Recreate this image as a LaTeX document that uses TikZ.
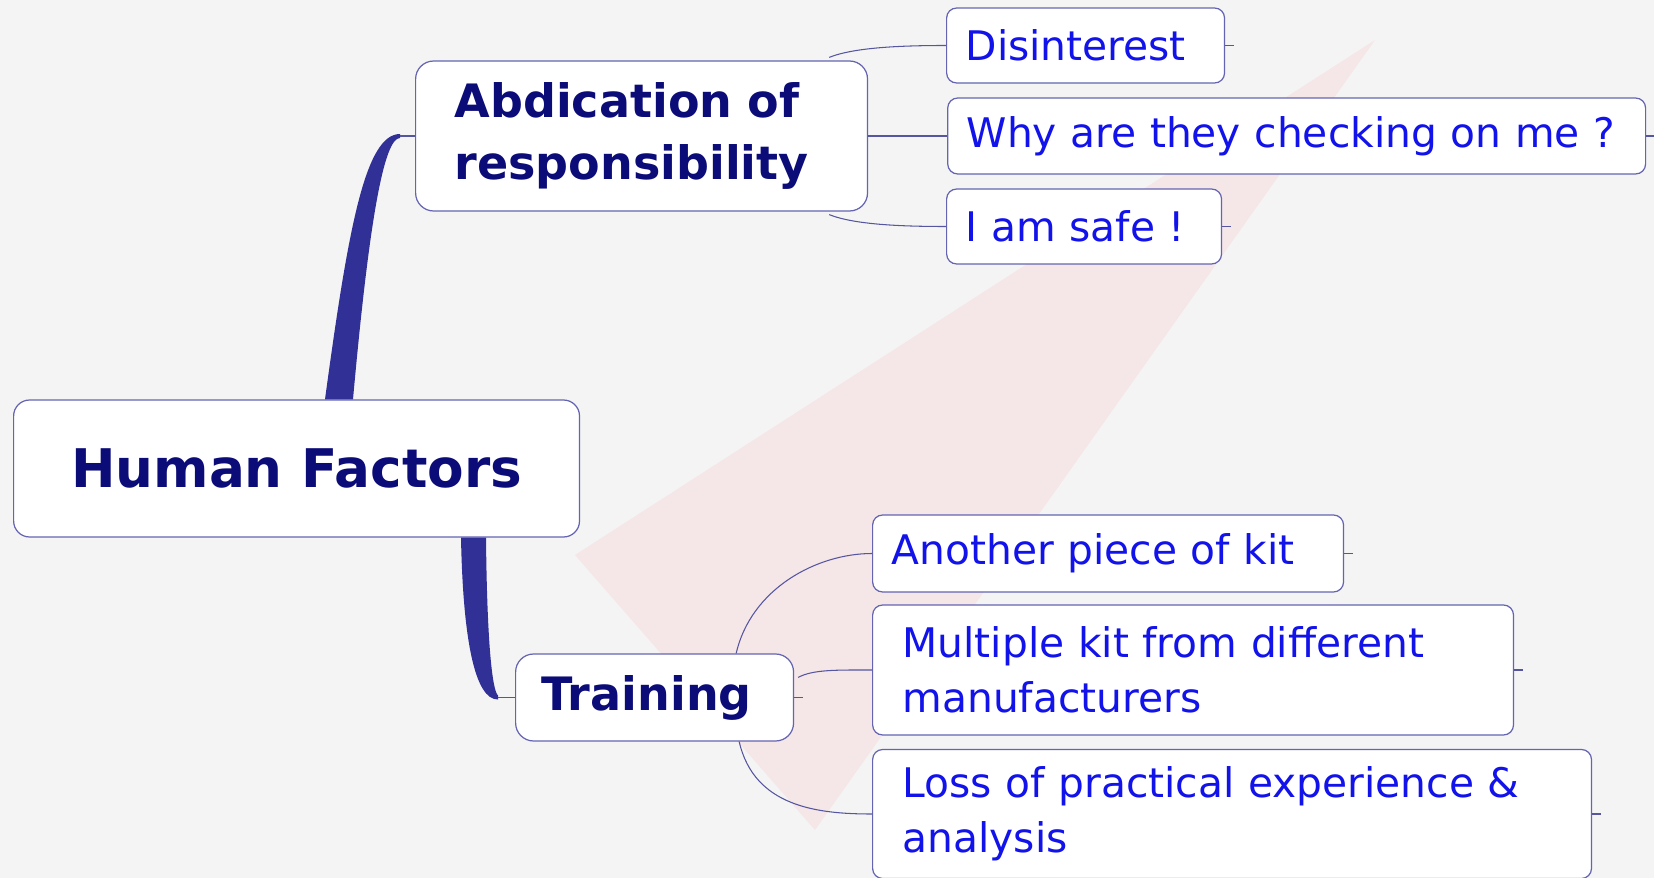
\documentclass[tikz,border=0pt]{standalone}
\usepackage{fontspec}
\setmainfont{DejaVu Sans}
\usepackage{xcolor}
\usetikzlibrary{positioning,calc}

\definecolor{topicnavy}{RGB}{12,12,120}
\definecolor{leafblue}{RGB}{18,18,235}
\definecolor{boxline}{RGB}{100,100,178}
\definecolor{branchblue}{RGB}{48,48,150}
\definecolor{twigblue}{RGB}{85,85,160}
\definecolor{paper}{RGB}{244,244,244}
\definecolor{needle}{RGB}{245,230,232}

\begin{document}
\begin{tikzpicture}[
    x=0.02cm, y=-0.02cm,
    rootbox/.style={rectangle, rounded corners=0.32cm, draw=boxline, fill=white, line width=0.7pt, font=\fontsize{30.3}{36}\selectfont\bfseries, text=topicnavy, minimum width=11.32cm, minimum height=2.74cm, align=center},
    topicbox/.style={rectangle, rounded corners=0.36cm, draw=boxline, fill=white, line width=0.7pt, font=\fontsize{26.2}{35.7}\selectfont\bfseries, text=topicnavy, align=left, anchor=west, inner ysep=0pt},
    leafbox/.style={rectangle, rounded corners=0.2cm, draw=boxline, fill=white, line width=0.7pt, font=\fontsize{23.2}{31.2}\selectfont, text=leafblue, align=left, anchor=west, inner xsep=0.38cm, inner ysep=0pt},
    branch/.style={fill=branchblue},
    twig/.style={draw=twigblue, line width=0.6pt}
]
    % Background
    \fill[paper] (0,0) rectangle (1654,878);
    \fill[needle] (575,555) -- (1375,40) -- (815,830) -- cycle;
    \useasboundingbox (0,0) rectangle (1654,878);

    % Central topic
    \node[rootbox, anchor=west] (root) at (13,468.5) {Human Factors};

    % Main topics
    \node[topicbox, inner xsep=0.78cm, text width=7.48cm, minimum height=3cm] (abd) at (415,136) {Abdication of\\responsibility};
    \node[topicbox, inner xsep=0.52cm, text width=4.52cm, minimum height=1.74cm] (trn) at (515,697.5) {Training};

    % Subtopics
    \node[leafbox, text width=13.2cm, minimum height=1.52cm, right=1.58cm of abd] (why) {Why are they checking on me ?};
    \node[leafbox, text width=4.8cm, minimum height=1.5cm] (dis) at (946,45.5) {Disinterest};
    \node[leafbox, text width=4.74cm, minimum height=1.5cm] (safe) at (946,226.5) {I am safe !};
    \node[leafbox, text width=8.66cm, minimum height=1.54cm] (ano) at (872,553.5) {Another piece of kit};
    \node[leafbox, inner xsep=0.6cm, text width=11.62cm, minimum height=2.6cm] (mul) at (872,670) {Multiple kit from different\\manufacturers};
    \node[leafbox, inner xsep=0.6cm, text width=13.18cm, minimum height=2.58cm] (los) at (872,814) {Loss of practical experience \&\\analysis};

    % Main branches
    \fill[branch] ($(root.north west)+(312,0)$) .. controls (348,230) and (365,134) .. ($(abd.west)+(-15,-2)$)
        -- ($(abd.west)+(-15,2)$) .. controls (385,138) and (370,210) .. ($(root.north west)+(340,0)$) -- cycle;
    \draw[twig] ($(abd.west)+(-15,0)$) -- (abd.west);
    \fill[branch] ($(root.south west)+(448,0)$) .. controls (463,640) and (475,700) .. ($(trn.west)+(-17,2)$)
        -- ($(trn.west)+(-17,-2)$) .. controls (492,690) and (487,640) .. ($(root.south west)+(473,0)$) -- cycle;
    \draw[twig] ($(trn.west)+(-17,0)$) -- (trn.west);

    % Subtopic links
    \draw[twig] ($(abd.north east)+(-39,-3)$) .. controls +(25,-10) and +(-45,0) .. (dis.west);
    \draw[twig] (abd.east) -- (why.west);
    \draw[twig] ($(abd.south east)+(-39,3)$) .. controls +(25,10) and +(-45,0) .. (safe.west);
    \draw[twig] ($(trn.north east)+(-58,0)$) .. controls +(15,-65) and +(-55,0) .. (ano.west);
    \draw[twig] ($(trn.north east)+(4,24)$) .. controls +(15,-8) and +(-35,0) .. (mul.west);
    \draw[twig] ($(trn.south east)+(-55,0)$) .. controls +(15,65) and +(-55,0) .. (los.west);

    % Collapse stubs
    \foreach \leaf in {dis,why,safe,ano,mul,los,trn}
        \draw[twig] (\leaf.east) -- ++(9,0);
\end{tikzpicture}
\end{document}
